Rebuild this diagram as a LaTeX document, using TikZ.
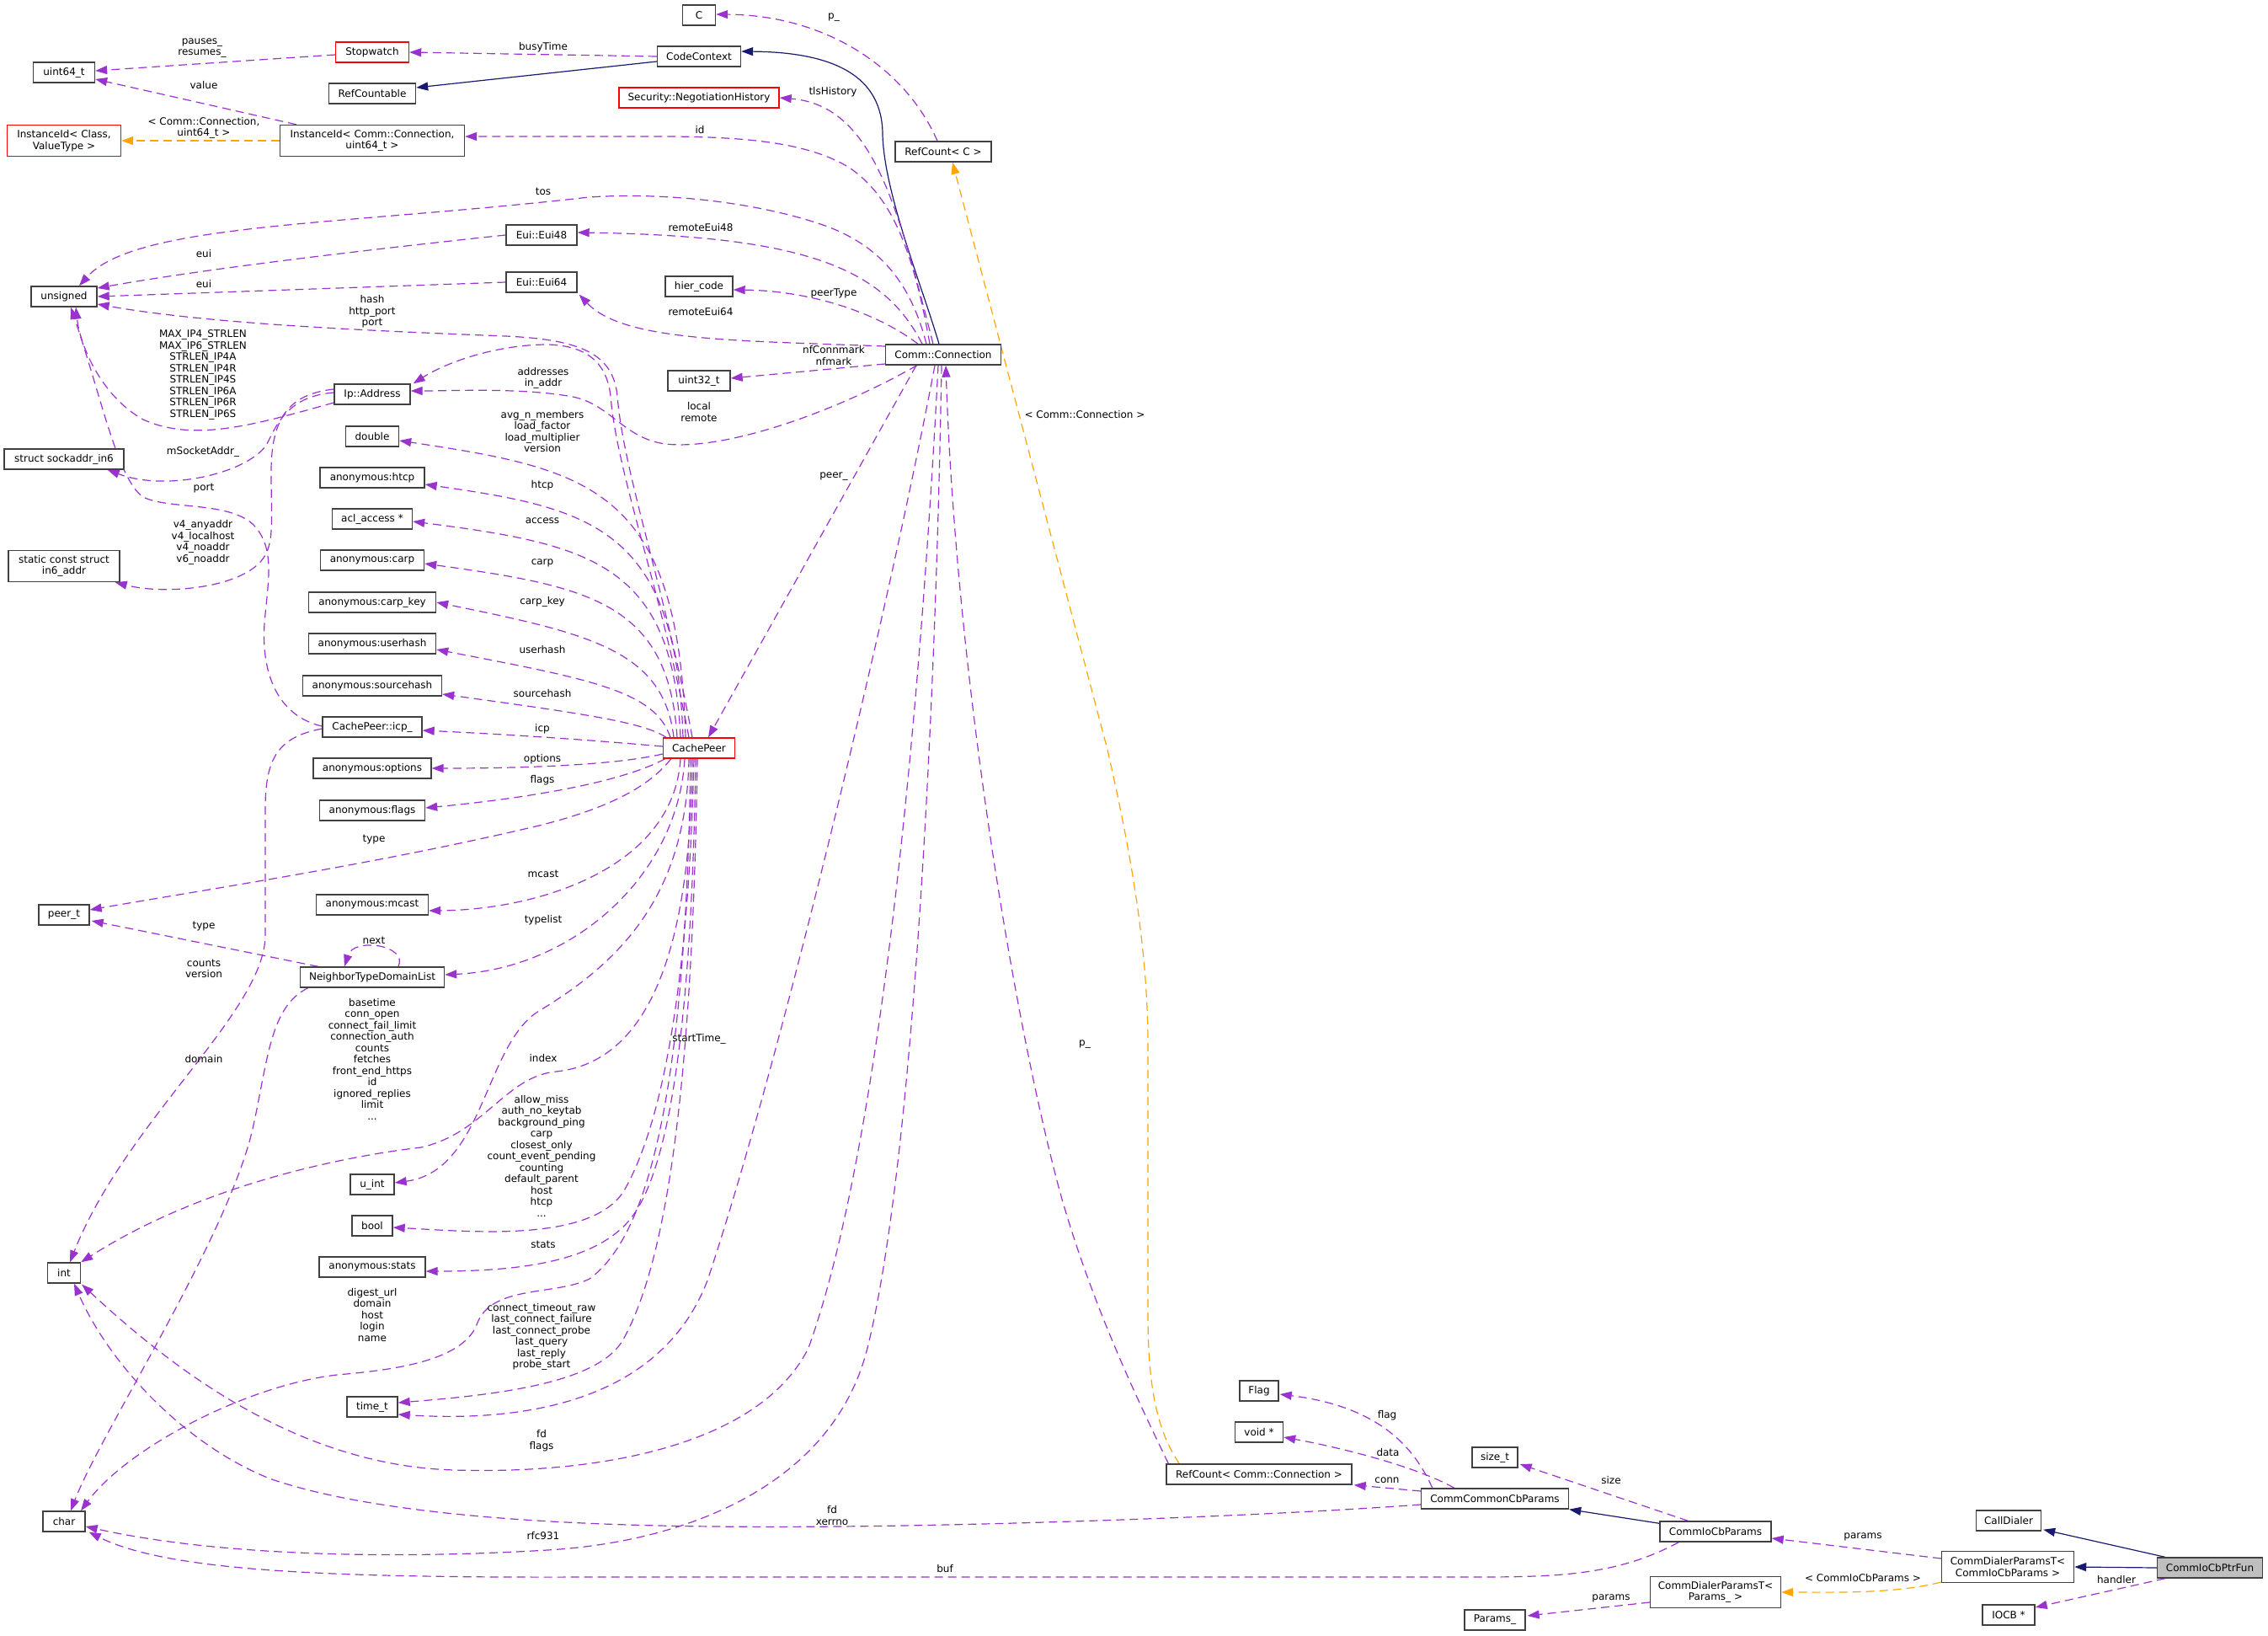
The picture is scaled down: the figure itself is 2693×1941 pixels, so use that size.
\documentclass[tikz,border=0pt]{standalone}
\usepackage{fontspec}
\setmainfont{DejaVu Sans}
\usetikzlibrary{arrows.meta,calc}
\definecolor{usecol}{HTML}{9A32CD}
\definecolor{inhcol}{HTML}{191970}
\definecolor{tplcol}{HTML}{FFA500}
\definecolor{bordcol}{HTML}{404040}
\definecolor{grayfill}{HTML}{BFBFBF}
\pgfdeclarelayer{bg}
\pgfdeclarelayer{edges}
\pgfsetlayers{bg,edges,main}
\begin{document}
\begin{tikzpicture}[x=1pt,y=-1pt,
  box/.style={draw=bordcol, line width=1.4pt, fill=white, inner sep=0pt, minimum height=24pt, align=center, font=\fontsize{12}{13.5}\selectfont},
  redbox/.style={box, draw=red},
  tall/.style={minimum height=37pt},
  lbl/.style={inner sep=0pt, align=center, font=\fontsize{12}{13.5}\selectfont},
  use/.style={draw=usecol, line width=1.2pt, dash pattern=on 10pt off 6pt, -{Triangle[length=14pt,width=10pt]}},
  inh/.style={draw=inhcol, line width=1.2pt, -{Triangle[length=14pt,width=10pt]}},
  tpl/.style={draw=tplcol, line width=1.2pt, dash pattern=on 10pt off 6pt, -{Triangle[length=14pt,width=10pt]}}]
\begin{pgfonlayer}{bg}
\fill[white] (0,0) rectangle (2693,1941);
\end{pgfonlayer}
\useasboundingbox (0,0) rectangle (2693,1941);

% ---- column A
\node[box, minimum width=73pt] (uint64) at (76,86) {uint64\_t};
\node[redbox, tall, minimum width=135pt] (instCV) at (76,167) {InstanceId< Class,\\ValueType >};
\node[box, minimum width=78pt] (unsigned) at (76,352) {unsigned};
\node[box, minimum width=142pt] (sockaddr) at (76,545) {struct sockaddr\_in6};
\node[box, tall, minimum width=132pt] (in6addr) at (76,672) {static const struct\\in6\_addr};
\node[box, minimum width=60pt] (peert) at (76,1086) {peer\_t};
\node[box, minimum width=39pt] (int) at (76,1511) {int};
\node[box, minimum width=50pt] (char) at (76,1806) {char};
% ---- column B
\node[redbox, minimum width=87pt] (stopwatch) at (442,62) {Stopwatch};
\node[box, minimum width=103pt] (refcountable) at (442,111) {RefCountable};
\node[box, tall, minimum width=219pt] (instCC) at (442,167) {InstanceId< Comm::Connection,\\uint64\_t >};
\node[box, minimum width=84pt] (eui48) at (643,279) {Eui::Eui48};
\node[box, minimum width=84pt] (eui64) at (643,335) {Eui::Eui64};
\node[box, minimum width=90pt] (ipaddr) at (442,468) {Ip::Address};
\node[box, minimum width=63pt] (double) at (442,518) {double};
\node[box, minimum width=124pt] (htcp) at (442,567) {anonymous:htcp};
\node[box, minimum width=95pt] (acl) at (442,616) {acl\_access *};
\node[box, minimum width=123pt] (carp) at (442,665) {anonymous:carp};
\node[box, minimum width=151pt] (carpkey) at (442,715) {anonymous:carp\_key};
\node[box, minimum width=151pt] (userhash) at (442,764) {anonymous:userhash};
\node[box, minimum width=165pt] (sourcehash) at (442,814) {anonymous:sourcehash};
\node[box, minimum width=118pt] (icp) at (442,863) {CachePeer::icp\_};
\node[box, minimum width=140pt] (options) at (442,912) {anonymous:options};
\node[box, minimum width=125pt] (flags) at (442,962) {anonymous:flags};
\node[box, minimum width=133pt] (mcast) at (442,1074) {anonymous:mcast};
\node[box, minimum width=171pt] (ntdl) at (442,1160) {NeighborTypeDomainList};
\node[box, minimum width=52pt] (uint) at (442,1406) {u\_int};
\node[box, minimum width=48pt] (bool) at (442,1455) {bool};
\node[box, minimum width=126pt] (stats) at (442,1504) {anonymous:stats};
\node[box, minimum width=60pt] (timet) at (442,1670) {time\_t};
% ---- column C
\node[box, minimum width=39pt] (C) at (830,18) {C};
\node[box, minimum width=99pt] (codecontext) at (830,67) {CodeContext};
\node[redbox, minimum width=190pt] (secneg) at (830,116) {Security::NegotiationHistory};
\node[box, minimum width=80pt] (hier) at (830,340) {hier\_code};
\node[box, minimum width=74pt] (uint32) at (830,452) {uint32\_t};
\node[redbox, minimum width=85pt] (cachepeer) at (830,888) {CachePeer};
% ---- column D
\node[box, minimum width=114pt] (refcountC) at (1120,180) {RefCount< C >};
\node[box, minimum width=137pt] (commconn) at (1120,421) {Comm::Connection};
% ---- right part
\node[box, minimum width=46pt] (flag) at (1495,1651) {Flag};
\node[box, minimum width=57pt] (void) at (1495,1700) {void *};
\node[box, minimum width=220pt] (refcountCC) at (1495,1750) {RefCount< Comm::Connection >};
\node[box, minimum width=54pt] (size) at (1775,1730) {size\_t};
\node[box, minimum width=175pt] (cccbp) at (1775,1779) {CommCommonCbParams};
\node[box, minimum width=72pt] (params) at (1775,1923) {Params\_};
\node[box, minimum width=132pt] (cio) at (2037,1818) {CommIoCbParams};
\node[box, tall, minimum width=155pt] (cdptparams) at (2037,1890) {CommDialerParamsT<\\Params\_ >};
\node[box, minimum width=77pt] (calldialer) at (2385,1805) {CallDialer};
\node[box, tall, minimum width=157pt] (cdptcio) at (2384,1860) {CommDialerParamsT<\\CommIoCbParams >};
\node[box, minimum width=62pt] (iocb) at (2385,1917) {IOCB *};
\node[box, fill=grayfill, minimum width=125pt] (fun) at (2624,1861) {CommIoCbPtrFun};

% ---- labels
\node[lbl] (lPR) at (240,57) {pauses\_\\resumes\_};
\node[lbl] (lBusy) at (645,56) {busyTime};
\node[lbl] (lValue) at (242,101) {value};
\node[lbl] (lTplIC) at (242,152) {< Comm::Connection,\\uint64\_t >};
\node[lbl] (lTos) at (645,227) {tos};
\node[lbl] (lEui1) at (242,301) {eui};
\node[lbl] (lEui2) at (242,337) {eui};
\node[lbl] (lHash) at (442,370) {hash\\http\_port\\port};
\node[lbl] (lMax) at (241,445) {MAX\_IP4\_STRLEN\\MAX\_IP6\_STRLEN\\STRLEN\_IP4A\\STRLEN\_IP4R\\STRLEN\_IP4S\\STRLEN\_IP6A\\STRLEN\_IP6R\\STRLEN\_IP6S};
\node[lbl] (lAddr) at (645,449) {addresses\\in\_addr};
\node[lbl] (lAvg) at (644,512) {avg\_n\_members\\load\_factor\\load\_multiplier\\version};
\node[lbl] (lMSock) at (241,536) {mSocketAddr\_};
\node[lbl] (lPort) at (242,580) {port};
\node[lbl] (lV4) at (241,644) {v4\_anyaddr\\v4\_localhost\\v4\_noaddr\\v6\_noaddr};
\node[lbl] (lHtcp) at (644,576) {htcp};
\node[lbl] (lAccess) at (644,618) {access};
\node[lbl] (lCarp) at (644,668) {carp};
\node[lbl] (lCarpKey) at (644,714) {carp\_key};
\node[lbl] (lUserhash) at (644,771) {userhash};
\node[lbl] (lSourcehash) at (644,823) {sourcehash};
\node[lbl] (lIcp) at (644,865) {icp};
\node[lbl] (lOptions) at (644,901) {options};
\node[lbl] (lFlags) at (644,926) {flags};
\node[lbl] (lType1) at (444,997) {type};
\node[lbl] (lMcast) at (645,1037) {mcast};
\node[lbl] (lType2) at (242,1100) {type};
\node[lbl] (lTypelist) at (645,1092) {typelist};
\node[lbl] (lNext) at (444,1116) {next};
\node[lbl] (lCounts) at (242,1150) {counts\\version};
\node[lbl] (lDomain) at (242,1257) {domain};
\node[lbl] (lBasetime) at (442,1257) {basetime\\conn\_open\\connect\_fail\_limit\\connection\_auth\\counts\\fetches\\front\_end\_https\\id\\ignored\_replies\\limit\\...};
\node[lbl] (lIndex) at (645,1256) {index};
\node[lbl] (lAllow) at (643,1372) {allow\_miss\\auth\_no\_keytab\\background\_ping\\carp\\closest\_only\\count\_event\_pending\\counting\\default\_parent\\host\\htcp\\...};
\node[lbl] (lStats) at (645,1477) {stats};
\node[lbl] (lDigest) at (442,1561) {digest\_url\\domain\\host\\login\\name};
\node[lbl] (lConnect) at (643,1587) {connect\_timeout\_raw\\last\_connect\_failure\\last\_connect\_probe\\last\_query\\last\_reply\\probe\_start};
\node[lbl] (lStart) at (830,1233) {startTime\_};
\node[lbl] (lFdFlags) at (643,1710) {fd\\flags};
\node[lbl] (lRfc) at (645,1823) {rfc931};
\node[lbl] (lFdX) at (988,1799) {fd\\xerrno};
\node[lbl] (lBuf) at (1122,1862) {buf};
\node[lbl] (lP1) at (990,21) {p\_};
\node[lbl] (lTls) at (989,109) {tlsHistory};
\node[lbl] (lId) at (831,154) {id};
\node[lbl] (lR48) at (832,270) {remoteEui48};
\node[lbl] (lPeerType) at (990,348) {peerType};
\node[lbl] (lR64) at (832,370) {remoteEui64};
\node[lbl] (lNf) at (990,422) {nfConnmark\\nfmark};
\node[lbl] (lLocal) at (830,489) {local\\remote};
\node[lbl] (lTplCC) at (1288,492) {< Comm::Connection >};
\node[lbl] (lPeer) at (990,566) {peer\_};
\node[lbl] (lP2) at (1288,1240) {p\_};
\node[lbl] (lFlag) at (1647,1680) {flag};
\node[lbl] (lData) at (1648,1724) {data};
\node[lbl] (lConn) at (1647,1757) {conn};
\node[lbl] (lSize) at (1913,1757) {size};
\node[lbl] (lParams1) at (2212,1824) {params};
\node[lbl] (lTplCIO) at (2212,1873) {< CommIoCbParams >};
\node[lbl] (lParams2) at (1913,1897) {params};
\node[lbl] (lHandler) at (2513,1875) {handler};

\begin{pgfonlayer}{edges}
% upper left
\draw[use] ($(stopwatch.west)+(0,3)$) -- ($(uint64.east)+(0,-2)$);
\draw[use] ($(instCC.north west)+(20,0)$) -- ($(uint64.east)+(0,8)$);
\draw[tpl] (instCC.west) -- (instCV.east);
\draw[use] (codecontext.west) -- (stopwatch.east);
\draw[inh] ($(codecontext.west)+(0,6)$) -- ($(refcountable.east)+(0,-7)$);
\draw[inh] ($(commconn.north)+(-5,0)$) .. controls (1095,340) and (1050,230) .. (1048,160) .. controls (1048,90) and (990,62) .. ($(codecontext.east)+(0,-6)$);
\draw[use] ($(commconn.north)+(-12,0)$) .. controls (1065,240) and (1035,125) .. (secneg.east);
\draw[use] ($(commconn.north)+(-16,0)$) .. controls (1085,300) and (1060,235) .. (1010,200) .. controls (960,168) and (880,163) .. (800,162) -- ($(instCC.east)+(0,-5)$);
\draw[use] ($(commconn.north)+(-20,0)$) .. controls (1080,330) and (1040,290) .. (980,268) .. controls (900,240) and (790,228) .. (700,234) .. controls (400,268) and (160,265) .. ($(unsigned.north)+(18,0)$);
\draw[use] ($(commconn.north)+(-25,0)$) .. controls (1050,320) and (960,280) .. ($(eui48.east)+(0,-3)$);
\draw[use] ($(commconn.west)+(0,-10)$) .. controls (870,404) and (740,405) .. ($(eui64.south east)+(2,2)$);
\draw[use] ($(commconn.north)+(-30,0)$) .. controls (1040,370) and (960,345) .. ($(hier.east)+(0,4)$);
\draw[use] ($(commconn.west)+(0,11)$) -- ($(uint32.east)+(0,-3)$);
\draw[use] ($(commconn.south west)+(38,0)$) .. controls (990,490) and (860,535) .. (790,527) .. controls (740,520) and (725,480) .. (680,471) .. controls (620,460) and (540,464) .. ($(ipaddr.east)+(0,-4)$);
\draw[use] ($(commconn.south)+(-32,0)$) -- ($(cachepeer.north)+(11,0)$);
\draw[use] ($(commconn.south)+(-10,0)$) .. controls (1060,700) and (930,1250) .. (840,1520) .. controls (790,1650) and (650,1690) .. ($(timet.east)+(0,9)$);
\draw[use] ($(commconn.south)+(-6,0)$) .. controls (1095,800) and (1050,1350) .. (960,1600) .. controls (900,1720) and (700,1750) .. (540,1745) .. controls (350,1740) and (200,1620) .. ($(int.south east)+(1,1)$);
\draw[use] ($(commconn.south)+(-2,0)$) .. controls (1110,900) and (1080,1400) .. (1030,1600) .. controls (990,1760) and (820,1830) .. (650,1840) .. controls (450,1852) and (250,1845) .. ($(char.east)+(0,6)$);
\draw[use] ($(refcountCC.north west)+(3,0)$) .. controls (1360,1680) and (1300,1560) .. (1260,1420) .. controls (1205,1220) and (1135,800) .. ($(commconn.south)+(3,0)$);
\draw[tpl] ($(refcountCC.north west)+(16,0)$) .. controls (1375,1700) and (1363,1650) .. (1363,1560) -- (1363,1240) .. controls (1363,1120) and (1340,1000) .. (1315,890) -- ($(refcountC.south)+(11,0)$);
\draw[use] ($(refcountC.north)+(-7,0)$) .. controls (1075,80) and (980,18) .. ($(C.east)+(0,-1)$);
% CachePeer up
\draw[use] ($(cachepeer.north)+(-8,0)$) .. controls (790,700) and (740,560) .. (733,470) .. controls (728,420) and (690,403) .. (600,399) .. controls (450,393) and (250,385) .. ($(unsigned.east)+(0,9)$);
\draw[use] ($(cachepeer.north)+(-12,0)$) .. controls (785,700) and (732,560) .. (725,470) .. controls (720,425) and (690,410) .. (650,409) .. controls (590,409) and (530,430) .. ($(ipaddr.north east)+(3,0)$);
\draw[use] ($(cachepeer.north)+(-16,0)$) .. controls (806,578) and (700,557) .. ($(double.east)+(0,5)$);
\draw[use] ($(cachepeer.north)+(-19,0)$) .. controls (803,625) and (700,603) .. ($(htcp.east)+(0,8)$);
\draw[use] ($(cachepeer.north)+(-22,0)$) .. controls (799,668) and (700,646) .. ($(acl.east)+(0,3)$);
\draw[use] ($(cachepeer.north)+(-26,0)$) .. controls (794,715) and (700,696) .. ($(carp.east)+(0,4)$);
\draw[use] ($(cachepeer.north)+(-30,0)$) .. controls (788,772) and (700,752) .. (carpkey.east);
\draw[use] ($(cachepeer.north)+(-34,0)$) .. controls (778,820) and (700,806) .. ($(userhash.east)+(0,7)$);
\draw[use] ($(cachepeer.north)+(-39,0)$) .. controls (765,858) and (700,848) .. ($(sourcehash.east)+(0,10)$);
\draw[use] ($(cachepeer.west)+(0,-2)$) .. controls (740,882) and (650,874) .. ($(icp.east)+(0,4)$);
\draw[use] ($(cachepeer.west)+(0,7)$) .. controls (740,906) and (650,912) .. (options.east);
\draw[use] ($(cachepeer.south west)+(3,0)$) .. controls (745,925) and (650,945) .. ($(flags.east)+(0,-3)$);
\draw[use] ($(cachepeer.south west)+(10,0)$) .. controls (770,935) and (720,960) .. (640,980) .. controls (450,1025) and (250,1055) .. ($(peert.east)+(0,-6)$);
% CachePeer down
\draw[use] ($(cachepeer.south)+(-22,0)$) .. controls (800,1030) and (640,1080) .. ($(mcast.east)+(0,7)$);
\draw[use] ($(cachepeer.south)+(-17,0)$) .. controls (805,1040) and (680,1150) .. ($(ntdl.east)+(0,-3)$);
\draw[use] ($(cachepeer.south)+(-12,0)$) .. controls (815,1060) and (740,1140) .. (640,1200) .. controls (575,1240) and (575,1390) .. ($(uint.east)+(0,-2)$);
\draw[use] ($(cachepeer.south)+(-8,0)$) .. controls (820,1150) and (760,1262) .. (660,1272) .. controls (600,1278) and (575,1345) .. (500,1362) .. controls (430,1370) and (250,1400) .. (int.north east);
\draw[use] ($(cachepeer.south)+(-10,0)$) .. controls (815,1250) and (780,1460) .. (700,1518) .. controls (660,1538) and (585,1525) .. (567,1570) .. controls (552,1615) and (470,1626) .. (400,1632) .. controls (290,1645) and (150,1720) .. ($(char.north)+(20,0)$);
\draw[use] ($(cachepeer.south)+(-6,0)$) .. controls (818,1150) and (790,1330) .. (740,1415) .. controls (700,1475) and (560,1462) .. ($(bool.east)+(0,2)$);
\draw[use] ($(cachepeer.south)+(-4,0)$) .. controls (822,1180) and (800,1380) .. (750,1445) .. controls (710,1497) and (620,1509) .. ($(stats.east)+(0,5)$);
\draw[use] ($(cachepeer.south)+(-2,0)$) .. controls (822,1300) and (790,1500) .. (740,1590) .. controls (712,1640) and (600,1655) .. ($(timet.east)+(0,-5)$);
% Ip::Address
\draw[use] ($(ipaddr.west)+(0,10)$) .. controls (300,505) and (230,525) .. (170,498) .. controls (120,470) and (95,410) .. ($(unsigned.south)+(14,0)$);
\draw[use] ($(ipaddr.west)+(0,-2)$) .. controls (345,470) and (330,500) .. (318,525) .. controls (300,560) and (200,585) .. ($(sockaddr.south east)+(-20,0)$);
\draw[use] ($(ipaddr.west)+(0,-6)$) .. controls (340,468) and (322,500) .. (322,560) .. controls (322,630) and (328,655) .. (300,675) .. controls (265,700) and (190,705) .. ($(in6addr.south east)+(-6,0)$);
% Eui
\draw[use] (eui48.west) .. controls (450,295) and (250,318) .. ($(unsigned.east)+(0,-10)$);
\draw[use] (eui64.west) -- (unsigned.east);
% icp_
\draw[use] ($(icp.west)+(0,-1)$) .. controls (330,850) and (310,800) .. (314,740) .. controls (318,690) and (328,650) .. (300,622) .. controls (270,595) and (200,605) .. (170,590) .. controls (140,570) and (120,470) .. ($(unsigned.south)+(8,0)$);
\draw[use] ($(icp.west)+(0,2)$) .. controls (330,875) and (315,900) .. (315,960) -- (315,1110) .. controls (315,1200) and (150,1330) .. ($(int.north)+(7,0)$);
% NeighborTypeDomainList
\draw[use] ($(ntdl.south west)+(10,0)$) .. controls (320,1195) and (318,1260) .. (300,1340) .. controls (270,1470) and (120,1700) .. ($(char.north)+(8,0)$);
\draw[use] ($(ntdl.north west)+(22,0)$) -- ($(peert.east)+(2,7)$);
\draw[use] ($(ntdl.north)+(31,0)$) .. controls (485,1122) and (420,1112) .. ($(ntdl.north)+(-33,0)$);
% CommCommonCbParams
\draw[use] ($(cccbp.west)+(0,-9)$) -- ($(refcountCC.south east)+(2,0)$);
\draw[use] ($(cccbp.north west)+(40,0)$) .. controls (1680,1740) and (1590,1718) .. ($(void.east)+(0,6)$);
\draw[use] ($(cccbp.north west)+(14,0)$) .. controls (1680,1720) and (1640,1670) .. ($(flag.east)+(1,4)$);
\draw[use] ($(cccbp.west)+(0,7)$) .. controls (1500,1800) and (1100,1815) .. (850,1812) .. controls (600,1810) and (420,1790) .. (320,1755) .. controls (220,1715) and (130,1620) .. ($(int.south)+(12,0)$);
% CommIoCbParams
\draw[use] ($(cio.north west)+(34,0)$) -- ($(size.east)+(2,8)$);
\draw[inh] ($(cio.north west)+(0,3)$) -- (cccbp.south east);
\draw[use] ($(cio.south west)+(23,0)$) .. controls (1920,1870) and (1850,1872) .. (1750,1872) -- (700,1872) .. controls (400,1873) and (200,1866) .. ($(char.south east)+(4,0)$);
% dialers
\draw[use] ($(cdptcio.west)+(0,-10)$) -- ($(cio.east)+(0,8)$);
\draw[tpl] ($(cdptcio.west)+(0,18)$) .. controls (2250,1892) and (2180,1890) .. (cdptparams.east);
\draw[use] ($(cdptparams.west)+(0,12)$) -- ($(params.east)+(2,-5)$);
\draw[inh] ($(fun.north west)+(10,0)$) -- ($(calldialer.south east)+(2,-2)$);
\draw[inh] (fun.west) -- (cdptcio.east);
\draw[use] ($(fun.south west)+(10,0)$) -- ($(iocb.east)+(0,-9)$);
\end{pgfonlayer}
\end{tikzpicture}
\end{document}
